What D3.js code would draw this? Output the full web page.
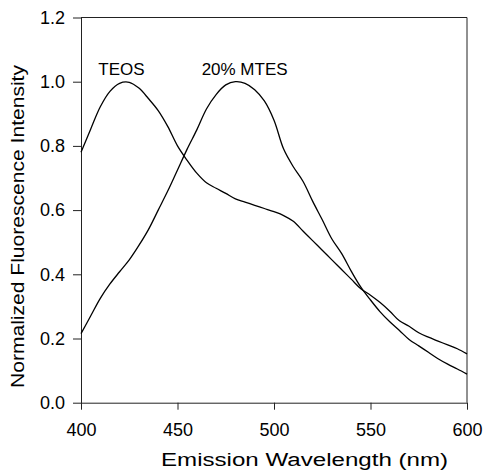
<!DOCTYPE html>
<html>
<head>
<meta charset="utf-8">
<script src="https://cdn.jsdelivr.net/npm/d3@7"></script>
<style>
  html, body { margin: 0; padding: 0; background: #fff; }
  svg { display: block; }
  text { font-family: "Liberation Sans", Arial, Helvetica, sans-serif; fill: #000; }
</style>
</head>
<body>
<svg id="chart" width="485" height="470"></svg>
<script>
// ---- data ----
const wavelengths = [400,405,410,415,420,425,430,435,440,445,450,455,460,465,470,475,480,485,490,495,500,505,510,515,520,525,530,535,540,545,550,555,560,565,570,575,580,585,590,595,600];
const teos = [0.78,0.852,0.922,0.97,0.995,0.998,0.98,0.947,0.91,0.86,0.80,0.755,0.715,0.685,0.668,0.652,0.635,0.625,0.615,0.605,0.595,0.583,0.565,0.535,0.505,0.475,0.445,0.415,0.385,0.355,0.335,0.312,0.285,0.255,0.238,0.218,0.204,0.192,0.18,0.168,0.152];
const mtes = [0.215,0.27,0.325,0.37,0.408,0.445,0.49,0.54,0.60,0.66,0.725,0.79,0.85,0.915,0.96,0.99,1.00,0.995,0.975,0.94,0.88,0.79,0.735,0.69,0.628,0.57,0.51,0.465,0.41,0.36,0.32,0.283,0.252,0.225,0.197,0.177,0.157,0.137,0.12,0.105,0.089];
const xTicks = [400,450,500,550,600];
const yTicks = [0.0,0.2,0.4,0.6,0.8,1.0,1.2];
const seriesLabels = [
  {name: "TEOS", wl: 409, v: 1.021},
  {name: "20% MTES", wl: 462.5, v: 1.021}
];
const xTitle = "Emission Wavelength (nm)";
const yTitle = "Normalized Fluorescence Intensity";

// ---- layout ----
const W = 485, H = 470;
const m = {left: 81, right: 18, top: 17.5, bottom: 67.3};
const svg = d3.select("#chart");

const x = d3.scaleLinear().domain([400, 600]).range([m.left, W - m.right]);
const y = d3.scaleLinear().domain([0, 1.2]).range([H - m.bottom, m.top]);

// frame (top & right)
svg.append("path")
  .attr("d", `M${x(400)},${y(1.2)}H${x(600)}V${y(0)}`)
  .attr("fill", "none").attr("stroke", "#222").attr("stroke-width", 1);

// axes
const xAxis = svg.append("g")
  .attr("transform", `translate(0,${y(0)})`)
  .call(d3.axisBottom(x).tickValues(xTicks).tickSize(7).tickSizeOuter(0).tickPadding(14).tickFormat(d3.format("d")));
const yAxis = svg.append("g")
  .attr("transform", `translate(${x(400)},0)`)
  .call(d3.axisLeft(y).tickValues(yTicks).tickSize(8).tickSizeOuter(0).tickPadding(8).tickFormat(d3.format(".1f")));
[xAxis, yAxis].forEach(g => {
  g.selectAll("path, line").attr("stroke", "#222").attr("stroke-width", 1);
  g.selectAll("text").attr("font-size", "18px").attr("fill", "#000")
    .style("font-family", '"Liberation Sans", Arial, sans-serif');
});

// lines
const line = d3.line()
  .x((d, i) => x(wavelengths[i]))
  .y(d => y(d))
  .curve(d3.curveCatmullRom);
[teos, mtes].forEach(s => {
  svg.append("path").datum(s)
    .attr("d", line)
    .attr("fill", "none").attr("stroke", "#000").attr("stroke-width", 1.3);
});

// series labels
seriesLabels.forEach(l => {
  svg.append("text")
    .attr("x", x(l.wl)).attr("y", y(l.v))
    .attr("font-size", "17px")
    .text(l.name);
});

// axis titles
svg.append("text")
  .attr("x", 161).attr("y", 465.5)
  .attr("font-size", "18px")
  .attr("textLength", 287).attr("lengthAdjust", "spacingAndGlyphs")
  .text(xTitle);

svg.append("text")
  .attr("transform", "translate(23.5,388) rotate(-90)")
  .attr("x", 0).attr("y", 0)
  .attr("font-size", "18px")
  .attr("textLength", 323).attr("lengthAdjust", "spacingAndGlyphs")
  .text(yTitle);
</script>
</body>
</html>
